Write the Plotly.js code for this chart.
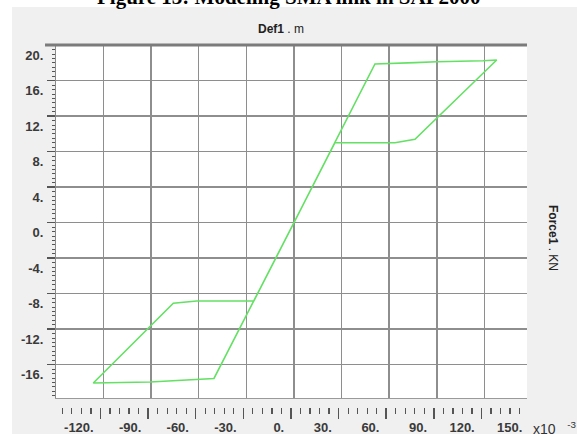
<!DOCTYPE html>
<html>
<head>
<meta charset="utf-8">
<script src="https://cdn.plot.ly/plotly-3.0.1.min.js"></script>
<style>html,body{margin:0;padding:0;background:#fff;}#chart{width:577px;height:434px;}</style>
</head>
<body>
<div id="chart"></div>
<script>
// Data (deformation in x10^-3 m, force in KN)
const defX = [0, 51.0, 76.2, 89.9, 119.1, 127.7, 76.2, 63.6, 25.8, 0, -50.4, -90.7, -126.4, -76.0, -61.3, -25.3, 0];
const forceY = [0, 17.88, 18.03, 18.14, 18.25, 18.33, 9.40, 9.01, 9.01, 0, -17.55, -17.95, -18.06, -9.08, -8.82, -8.82, 0];
const xTickVals = [-120, -90, -60, -30, 0, 30, 60, 90, 120, 150];
const xTickText = ['-120.', '-90.', '-60.', '-30.', '0.', '30.', '60.', '90.', '120.', '150.'];
const yTickVals = [-16, -12, -8, -4, 0, 4, 8, 12, 16, 20];
const yTickText = ['-16.', '-12.', '-8.', '-4.', '0.', '4.', '8.', '12.', '16.', '20.'];

const xRange = [-149.9, 150.55];
const rulerShift = 1.9;
const tickFont = {family: 'Liberation Sans, Arial, sans-serif', size: 13, color: '#3a3a3a', weight: 'bold'};

const traces = [
  {x: defX, y: forceY, type: 'scatter', mode: 'lines', xaxis: 'x', yaxis: 'y',
   line: {color: '#64e064', width: 1.6}, hoverinfo: 'skip'},
  {x: [], y: [], type: 'scatter', mode: 'lines', xaxis: 'x2', yaxis: 'y', hoverinfo: 'skip'}
];

const layout = {
  width: 577, height: 434,
  margin: {l: 56, r: 44, t: 45, b: 27, pad: 0},
  paper_bgcolor: '#f0f0f0',
  plot_bgcolor: '#ffffff',
  showlegend: false,
  xaxis: {
    range: xRange, anchor: 'y',
    tickmode: 'array', tickvals: xTickVals, showticklabels: false, ticks: '',
    showgrid: true, gridcolor: '#8e8e8e', gridwidth: 1.5,
    zeroline: false, showline: true, linecolor: '#9a9a9a', linewidth: 1
  },
  xaxis2: {
    overlaying: 'x', anchor: 'free', position: 0, side: 'bottom',
    range: [xRange[0] + rulerShift, xRange[1] + rulerShift],
    tickmode: 'array', tickvals: xTickVals, ticktext: xTickText,
    ticks: 'outside', ticklen: 11, tickwidth: 1.5, tickcolor: '#555',
    minor: {dtick: 6, tick0: 0, ticks: 'outside', ticklen: 6, tickwidth: 1.2, tickcolor: '#555', showgrid: false},
    showgrid: false, zeroline: false, showline: false,
    ticklabelposition: 'outside left', ticklabelshift: -6, ticklabelstandoff: 8,
    tickfont: tickFont
  },
  yaxis: {
    range: [-19.75, 20.02], domain: [9 / 362, 1],
    tickmode: 'array', tickvals: yTickVals, ticktext: yTickText,
    ticks: 'outside', ticklen: 8, tickwidth: 1.5, tickcolor: '#555',
    minor: {dtick: 0.5, tick0: 0, ticks: 'outside', ticklen: 3.5, tickwidth: 1, tickcolor: '#555', showgrid: false},
    showgrid: true, gridcolor: '#8e8e8e', gridwidth: 1.5,
    zeroline: false, showline: true, linecolor: '#8a8a8a', linewidth: 1,
    ticklabelposition: 'outside bottom', ticklabelshift: 0, ticklabelstandoff: 9,
    tickfont: tickFont
  },
  shapes: [
    {type: 'rect', xref: 'paper', yref: 'paper', x0: -0.1174, x1: 1.0922, y0: 1.105, y1: 1.1243,
     fillcolor: '#ffffff', line: {width: 0}, layer: 'below'},
    {type: 'rect', xref: 'paper', yref: 'paper', x0: -0.1174, x1: -0.0922, y0: -0.1, y1: 1.1243,
     fillcolor: '#ffffff', line: {width: 0}, layer: 'below'},
    {type: 'rect', xref: 'paper', yref: 'paper', x0: 0.98742, x1: 1.006, y0: -0.036, y1: 1.0138,
     fillcolor: '#f0f0f0', line: {width: 0}, layer: 'above'},
    {type: 'line', xref: 'paper', yref: 'paper', x0: -0.023, x1: 0.98742, y0: 1, y1: 1,
     line: {color: '#7b7b7b', width: 3}, layer: 'above'}
  ],
  annotations: [
    {text: '<b>Figure 13: Modeling SMA link in SAP2000</b>', xref: 'paper', yref: 'paper',
     x: 0.4885, y: 1.0935, xanchor: 'center', yanchor: 'bottom', showarrow: false,
     font: {family: 'Liberation Serif, Times New Roman, serif', size: 21, color: '#000'}},
    {text: '<b>Def1</b> . m', xref: 'paper', yref: 'paper', x: 0.4717, y: 1.0442,
     xanchor: 'center', yanchor: 'middle', showarrow: false,
     font: {family: 'Liberation Sans, Arial, sans-serif', size: 12, color: '#222'}},
    {text: '<b>Force1</b> . KN', xref: 'paper', yref: 'paper', x: 1.0419, y: 0.4669,
     xanchor: 'center', yanchor: 'middle', textangle: 90, showarrow: false,
     font: {family: 'Liberation Sans, Arial, sans-serif', size: 12, color: '#222'}},
    {text: 'x10   <sup>-3</sup>', xref: 'paper', yref: 'paper', x: 0.996, y: -0.058,
     xanchor: 'left', yanchor: 'middle', showarrow: false,
     font: {family: 'Liberation Sans, Arial, sans-serif', size: 14, color: '#333'}}
  ]
};

Plotly.newPlot('chart', traces, layout, {staticPlot: true, displayModeBar: false});
</script>
</body>
</html>
